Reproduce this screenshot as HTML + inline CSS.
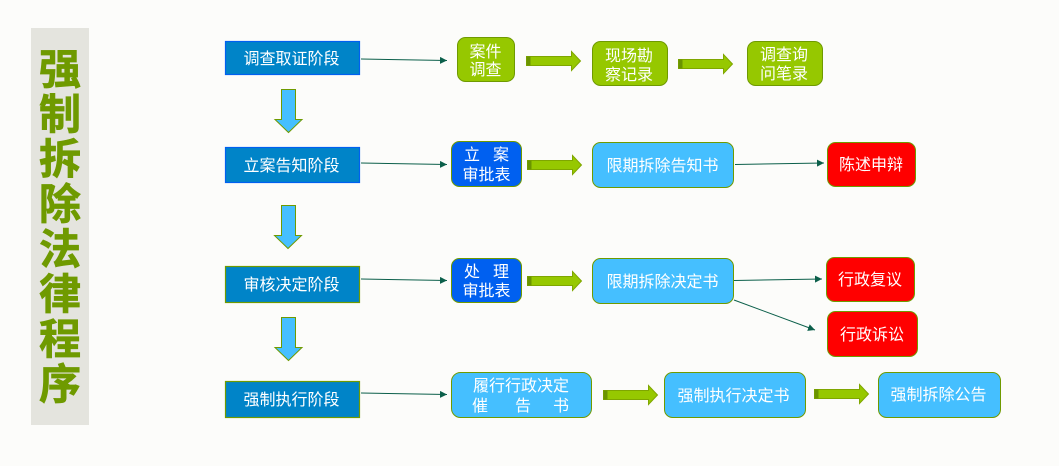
<!DOCTYPE html>
<html lang="zh-CN">
<head>
<meta charset="utf-8">
<title>强制拆除法律程序</title>
<style>
html,body{margin:0;padding:0;background:#fcfcfa;width:1059px;height:466px;overflow:hidden}
svg{display:block}
text{font-family:"Liberation Sans","Noto Sans CJK SC",sans-serif;fill:#fff;font-size:16px;text-anchor:middle}
.t{fill:#6f9a00;stroke:#6f9a00;stroke-width:.7px;font-size:42px;font-weight:700}
.stage{fill:#0084c8;stroke-width:1.2}
.g{fill:#96c800;stroke:#6f9a00}
.b{fill:#45bfff;stroke:#6f9a00}
.d{fill:#0060f0;stroke:#6f9a00}
.r{fill:#ff0000;stroke:#6f9a00}
.l{stroke:#0b5f4a;stroke-width:1;fill:none;marker-end:url(#m)}
.da{fill:#45bfff;stroke:#6f9a00;stroke-width:1}
</style>
</head>
<body>
<svg width="1059" height="466" viewBox="0 0 1059 466" xmlns="http://www.w3.org/2000/svg">
<defs>
<marker id="m" markerUnits="userSpaceOnUse" markerWidth="8" markerHeight="8" refX="7" refY="3.5" orient="auto"><path d="M0 0L7 3.5L0 7Z" fill="#0b5f4a"/></marker>
<g id="ba">
<path d="M0 -4.500H45V-9.500L54 0L45 9.500V4.500H0Z" fill="#96c800" stroke="#7fa600" stroke-width="1"/>
<rect x="0" y="-4.500" width="4" height="9" fill="#6b9400"/>
</g>
</defs>

<rect x="31" y="28" width="58" height="397" fill="#e4e4de"/>
<text class="t" x="60" y="84">强</text>
<text class="t" x="60" y="129">制</text>
<text class="t" x="60" y="174">拆</text>
<text class="t" x="60" y="219">除</text>
<text class="t" x="60" y="264">法</text>
<text class="t" x="60" y="309">律</text>
<text class="t" x="60" y="354">程</text>
<text class="t" x="60" y="399">序</text>

<rect class="stage" x="225.500" y="41.500" width="134" height="33" stroke="#0060f0"/>
<rect class="stage" x="225.500" y="147.500" width="134" height="35" stroke="#0060f0"/>
<rect class="stage" x="225.500" y="266.500" width="134" height="36" stroke="#6f9a00"/>
<rect class="stage" x="225.500" y="381.500" width="134" height="36" stroke="#6f9a00"/>
<text x="291.500" y="64">调查取证阶段</text>
<text x="291.500" y="171">立案告知阶段</text>
<text x="291.500" y="290">审核决定阶段</text>
<text x="291.500" y="405">强制执行阶段</text>

<path class="da" d="M281.500 89.500H295.500V119.500H302L288.500 132.500L275 119.500H281.500Z"/>
<path class="da" d="M281.500 205.500H295.500V235.500H301.500L288 248.500L274.500 235.500H281.500Z"/>
<path class="da" d="M281.500 317.500H295.500V347.500H302L288.500 360.500L275 347.500H281.500Z"/>

<line class="l" x1="361" y1="59" x2="447" y2="60.500"/>
<line class="l" x1="361" y1="163" x2="447" y2="164.500"/>
<line class="l" x1="361" y1="279" x2="447" y2="280.500"/>
<line class="l" x1="361" y1="393" x2="447" y2="394.500"/>
<line class="l" x1="735" y1="164.500" x2="824" y2="163"/>
<line class="l" x1="734" y1="280.500" x2="822" y2="279"/>
<line class="l" x1="734" y1="300" x2="815" y2="330"/>

<use href="#ba" x="526.500" y="61"/>
<use href="#ba" x="678.500" y="64"/>
<use href="#ba" x="527.500" y="165"/>
<use href="#ba" x="527.500" y="281"/>
<use href="#ba" x="603.500" y="395"/>
<use href="#ba" x="814.500" y="394"/>

<rect class="g" x="457.500" y="37.500" width="57" height="44" rx="8"/>
<text x="485.500" y="57">案件</text><text x="485.500" y="75">调查</text>
<rect class="g" x="592.500" y="41.500" width="75" height="44" rx="8"/>
<text x="629" y="61">现场勘</text><text x="629" y="80">察记录</text>
<rect class="g" x="747.500" y="41.500" width="75" height="44" rx="8"/>
<text x="784" y="60">调查询</text><text x="784" y="79">问笔录</text>

<rect class="d" x="451.500" y="141.500" width="70" height="45" rx="8"/>
<text x="472" y="160">立</text><text x="501" y="160">案</text><text x="486.500" y="180">审批表</text>
<rect class="b" x="592.500" y="142.500" width="141" height="45" rx="8"/>
<text x="662.500" y="171">限期拆除告知书</text>
<rect class="r" x="827.500" y="142.500" width="88" height="44" rx="8"/>
<text x="871" y="170">陈述申辩</text>

<rect class="d" x="451.500" y="258.500" width="70" height="44" rx="8"/>
<text x="472" y="277">处</text><text x="501" y="277">理</text><text x="486.500" y="296">审批表</text>
<rect class="b" x="592.500" y="258.500" width="141" height="45" rx="8"/>
<text x="662.500" y="287">限期拆除决定书</text>
<rect class="r" x="826.500" y="257.500" width="88" height="44" rx="8"/>
<text x="870" y="285">行政复议</text>
<rect class="r" x="827.500" y="311.500" width="90" height="45" rx="8"/>
<text x="872" y="340">行政诉讼</text>

<rect class="b" x="451.500" y="372.500" width="140" height="45" rx="9"/>
<text x="521" y="391">履行行政决定</text>
<text x="480" y="411">催</text><text x="523" y="411">告</text><text x="561" y="411">书</text>
<rect class="b" x="664.500" y="372.500" width="141" height="45" rx="8"/>
<text x="733.500" y="401">强制执行决定书</text>
<rect class="b" x="878.500" y="372.500" width="122" height="45" rx="8"/>
<text x="938.500" y="400">强制拆除公告</text>
</svg>
</body>
</html>
